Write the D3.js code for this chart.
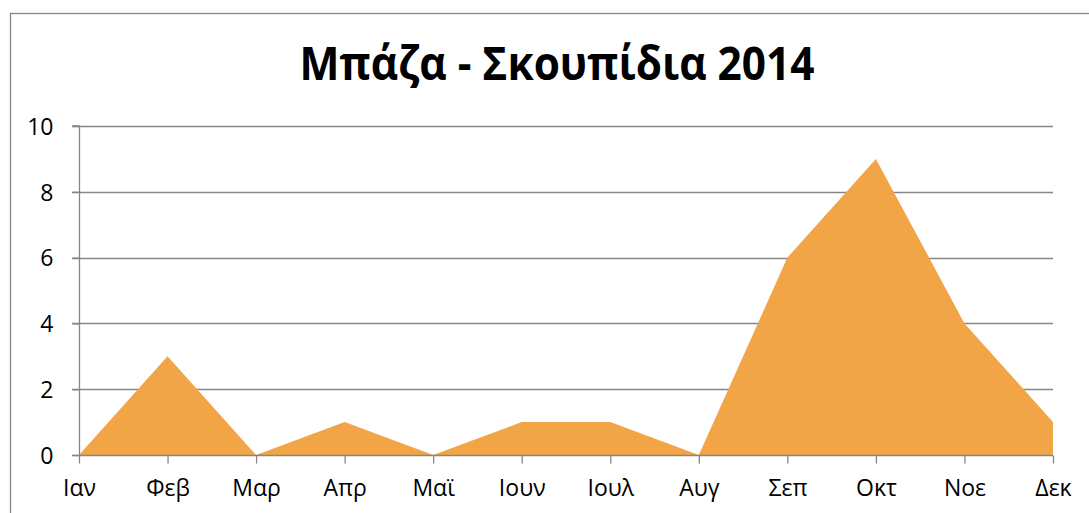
<!DOCTYPE html>
<html><head><meta charset="utf-8">
<script src="https://cdn.jsdelivr.net/npm/d3@7"></script>
<style>body{margin:0;background:#fff}svg{display:block}</style>
</head><body>
<script>
const title = "Μπάζα - Σκουπίδια 2014";
const months = ["Ιαν","Φεβ","Μαρ","Απρ","Μαϊ","Ιουν","Ιουλ","Αυγ","Σεπ","Οκτ","Νοε","Δεκ"];
const values = [0,3,0,1,0,1,1,0,6,9,4,1];
const yTicks = [0,2,4,6,8,10];

const W = 1089, H = 513;
const font = "'Open Sans', 'Noto Sans', sans-serif";
const svg = d3.select("body").append("svg").attr("width", W).attr("height", H);

svg.append("rect").attr("x", 10.5).attr("y", 13.5).attr("width", 1100).attr("height", 520)
  .attr("fill", "none").attr("stroke", "#868686").attr("stroke-width", 1.3);

const x = d3.scalePoint().domain(months).range([79, 1053]);
const y = d3.scaleLinear().domain([0, 10]).range([455, 126]);

// gridlines
svg.append("g").selectAll("line").data(yTicks.filter(d => d > 0)).join("line")
  .attr("x1", 72).attr("x2", 1053).attr("y1", d => Math.round(y(d)) + 0.5).attr("y2", d => Math.round(y(d)) + 0.5)
  .attr("stroke", "#868686").attr("stroke-width", 1.3);

// area
const area = d3.area().x((d, i) => x(months[i])).y0(y(0)).y1(d => y(d));
svg.append("path").datum(values).attr("d", area).attr("fill", "#F2A546");

// y axis
const ya = svg.append("g").attr("transform", "translate(79.5,0)")
  .call(d3.axisLeft(y).tickValues(yTicks).tickSize(7).tickPadding(19));
ya.select(".domain").attr("stroke", "#868686").attr("stroke-width", 1.3).attr("d", `M-7,${y(10)}H0V${y(0)}`);
ya.selectAll(".tick line").attr("stroke", "#868686").attr("stroke-width", 1.3);
ya.selectAll(".tick text").attr("font-family", font).attr("font-size", 23).attr("fill", "#000").attr("dy", "0.36em");

// x axis
const xa = svg.append("g").attr("transform", `translate(0,${Math.round(y(0)) + 0.5})`)
  .call(d3.axisBottom(x).tickSize(8).tickPadding(16));
xa.select(".domain").attr("stroke", "#868686").attr("stroke-width", 1.3).attr("d", `M72,0H1053`);
xa.selectAll(".tick line").attr("stroke", "#868686").attr("stroke-width", 1.3);
xa.selectAll(".tick text").attr("font-family", font).attr("font-size", 23).attr("fill", "#000");

svg.append("text").attr("x", 557).attr("y", 80).attr("text-anchor", "middle")
  .attr("font-family", font).attr("font-weight", "bold").attr("font-size", 47).attr("fill", "#000")
  .attr("textLength", 515).attr("lengthAdjust", "spacingAndGlyphs")
  .text(title);
</script>
</body></html>
